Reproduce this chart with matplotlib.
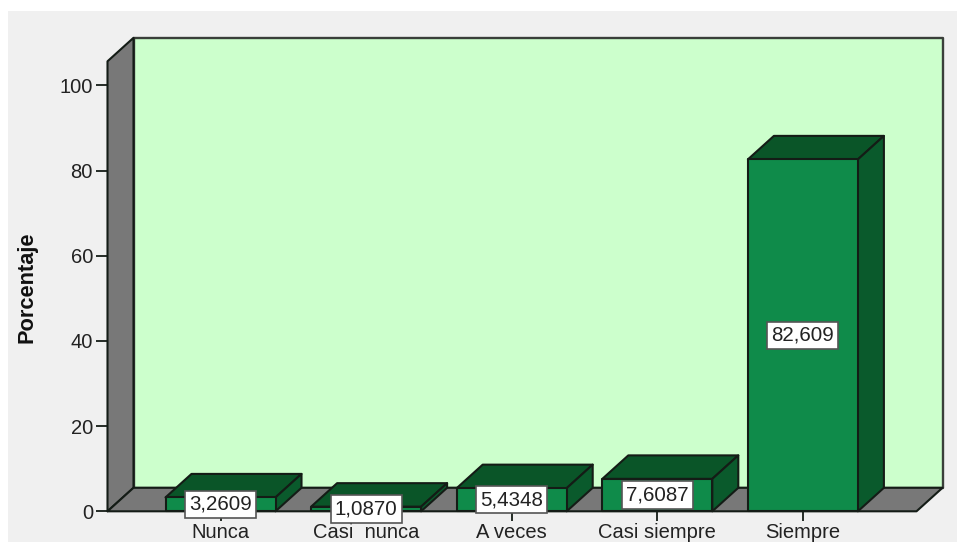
import matplotlib
matplotlib.use("Agg")
import matplotlib.pyplot as plt
from matplotlib.patches import Polygon, Rectangle

categories = ["Nunca", "Casi  nunca", "A veces", "Casi siempre", "Siempre"]
values = [3.2609, 1.0870, 5.4348, 7.6087, 82.609]
value_labels = ["3,2609", "1,0870", "5,4348", "7,6087", "82,609"]
yticks = [0, 20, 40, 60, 80, 100]

W, H = 957, 542
FONT = ["Liberation Sans", "DejaVu Sans"]
BG, WALL, GREY = "#F0F0F0", "#CCFFCC", "#787878"
FRONT, TOP, SIDE = "#0F8B4A", "#0A5528", "#0A5A2C"
EDGE = "#141C16"

fig = plt.figure(figsize=(W / 100, H / 100), dpi=100, facecolor="white")
fig.patches.append(Rectangle((8 / W, 0), 1 - 8 / W, 1 - 11 / H, transform=fig.transFigure,
                             facecolor=BG, edgecolor="none", zorder=-10))
ax = fig.add_axes([107.5 / W, 30.7 / H, 809 / W, 450 / H])
ax.patch.set_visible(False)
ppx = 145.6
ppy = 4.26
ax.set_xlim((107.5 - 220.5) / ppx, (916.5 - 220.5) / ppx)
ax.set_ylim(0, 450 / ppy)
x0, x1 = ax.get_xlim()
y0, y1 = ax.get_ylim()
dx, dy = 26 / ppx, 23.5 / ppy
bw = 110 / ppx


def poly(pts, fc, ec=EDGE, lw=1.5, z=1):
    ax.add_patch(Polygon(pts, closed=True, facecolor=fc, edgecolor=ec, linewidth=lw,
                         joinstyle="round", clip_on=False, zorder=z))


# back wall, left wall, floor
poly([(x0 + dx, y0 + dy), (x1 + dx, y0 + dy), (x1 + dx, y1 + dy), (x0 + dx, y1 + dy)], WALL, ec="#3A3F3A", lw=1.7)
poly([(x0, y0), (x0 + dx, y0 + dy), (x0 + dx, y1 + dy), (x0, y1)], GREY)
poly([(x0, y0), (x1, y0), (x1 + dx, y0 + dy), (x0 + dx, y0 + dy)], GREY)

# bars
for i, v in enumerate(values):
    l, r = i - bw / 2, i + bw / 2
    poly([(l, v), (r, v), (r + dx, v + dy), (l + dx, v + dy)], TOP, z=3)
    poly([(r, 0), (r + dx, dy), (r + dx, v + dy), (r, v)], SIDE, z=3)
    poly([(l, 0), (r, 0), (r, v), (l, v)], FRONT, z=3)

# value labels
for i, (v, s) in enumerate(zip(values, value_labels)):
    ax.text(i, v / 2, s, ha="center", va="center", fontsize=14.8, family=FONT, color="#222222", zorder=6,
            bbox=dict(boxstyle="square,pad=0.2", facecolor="white", edgecolor="#555555", linewidth=1.2))

for s in ax.spines.values():
    s.set_visible(False)
ax.set_xticks(range(len(categories)))
ax.set_xticklabels(categories, family=FONT, fontsize=14.5, color="#222222")
ax.set_yticks(yticks)
ax.set_yticklabels([str(t) for t in yticks], family=FONT, fontsize=14.5, color="#222222")
ax.tick_params(axis="x", length=7.2, width=1.3, color=EDGE, pad=1.0)
ax.tick_params(axis="y", length=8.5, width=1.3, color=EDGE, pad=2.0)
for t in ax.get_xticklines() + ax.get_yticklines():
    t.set_zorder(0.5)
fig.text(27 / W, 1 - 287.5 / H, "Porcentaje", rotation=90, ha="center", va="center",
         family=FONT, fontsize=15.7, fontweight="bold", color="#111111")
fig.savefig("out.png", dpi=100, facecolor="white")
